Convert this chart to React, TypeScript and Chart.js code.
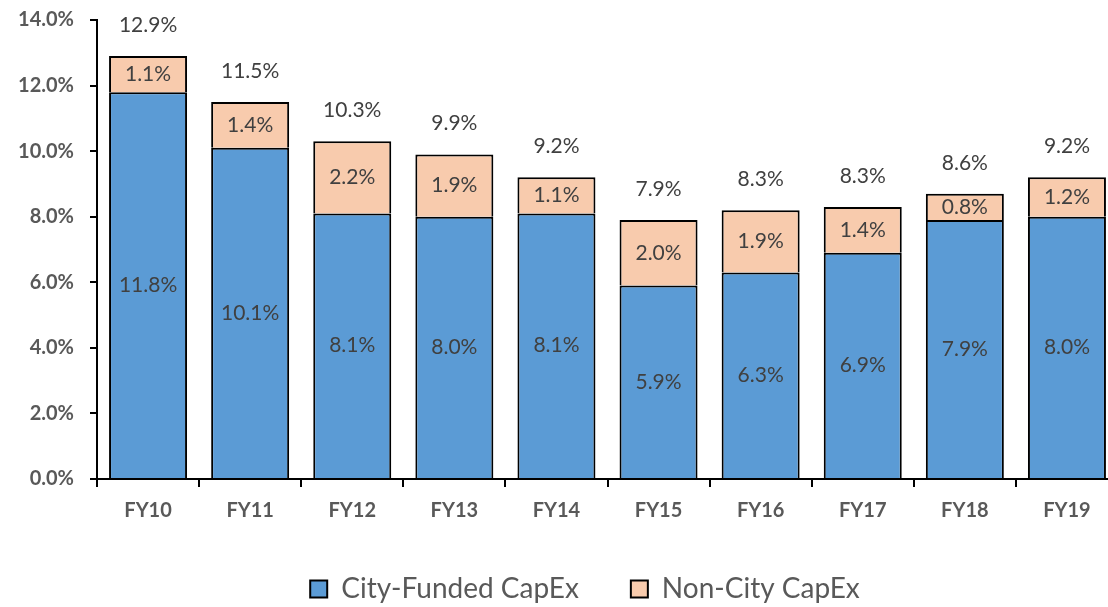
import React, { useEffect, useRef } from "react";
import { Chart, registerables } from "chart.js";

Chart.register(...registerables);

const categories = ["FY10", "FY11", "FY12", "FY13", "FY14", "FY15", "FY16", "FY17", "FY18", "FY19"];
const cityFunded = [11.8, 10.1, 8.1, 8.0, 8.1, 5.9, 6.3, 6.9, 7.9, 8.0];
const nonCity = [1.1, 1.4, 2.2, 1.9, 1.1, 2.0, 1.9, 1.4, 0.8, 1.2];
const totals = [12.9, 11.5, 10.3, 9.9, 9.2, 7.9, 8.3, 8.3, 8.6, 9.2];
const yMin = 0;
const yMax = 14;
const yStep = 2;

const fmt = (v: number) => v.toFixed(1) + "%";

const labelPlugin = {
  id: "barLabels",
  afterDatasetsDraw(chart: any) {
    const ctx = chart.ctx;
    const m0 = chart.getDatasetMeta(0);
    const m1 = chart.getDatasetMeta(1);
    ctx.save();
    ctx.font = "21px Lato";
    ctx.fillStyle = "#404040";
    ctx.textAlign = "center";
    ctx.textBaseline = "middle";
    m0.data.forEach((el: any, i: number) => {
      ctx.fillText(fmt(cityFunded[i]), el.x, (el.y + el.base) / 2);
      const e1 = m1.data[i];
      ctx.fillText(fmt(nonCity[i]), e1.x, (e1.y + e1.base) / 2);
      ctx.fillText(fmt(totals[i]), e1.x, e1.y - 31);
    });
    ctx.restore();
  },
};

export default function App() {
  const ref = useRef<HTMLCanvasElement | null>(null);
  useEffect(() => {
    if (!ref.current) return;
    const chart = new Chart(ref.current, {
      type: "bar",
      data: {
        labels: categories,
        datasets: [
          {
            label: "City-Funded CapEx",
            data: cityFunded,
            backgroundColor: "#5B9BD5",
            borderColor: "#000000",
            borderWidth: 2,
            barPercentage: 0.764,
            categoryPercentage: 1,
          },
          {
            label: "Non-City CapEx",
            data: nonCity,
            backgroundColor: "#F8CBAD",
            borderColor: "#000000",
            borderWidth: 2,
            barPercentage: 0.764,
            categoryPercentage: 1,
          },
        ],
      },
      options: {
        responsive: false,
        animation: false,
        devicePixelRatio: 1,
        layout: { padding: { top: 20, left: 12, right: 0, bottom: 2 } },
        plugins: {
          tooltip: { enabled: false },
          legend: {
            position: "bottom",
            labels: {
              font: { family: "Lato", size: 28 },
              color: "#595959",
              boxWidth: 17,
              boxHeight: 17,
              padding: 52,
            },
          },
        },
        scales: {
          x: {
            stacked: true,
            afterFit: (s: any) => {
              s.height = 44;
            },
            grid: {
              display: true,
              offset: true,
              drawOnChartArea: false,
              drawTicks: true,
              tickLength: 8,
              color: "#000000",
              lineWidth: 2,
            },
            border: { display: true, color: "#000000", width: 2 },
            ticks: {
              font: { family: "Lato", size: 20, weight: "bold" },
              color: "#595959",
              padding: 12,
            },
          },
          y: {
            stacked: true,
            min: yMin,
            max: yMax,
            afterFit: (s: any) => {
              s.width = 85;
              s.paddingTop = 12;
              s.paddingBottom = 12;
            },
            grid: {
              display: true,
              drawOnChartArea: false,
              drawTicks: true,
              tickLength: 7,
              color: "#000000",
              lineWidth: 2,
            },
            border: { display: true, color: "#000000", width: 2 },
            ticks: {
              stepSize: yStep,
              font: { family: "Lato", size: 20, weight: "bold" },
              color: "#595959",
              padding: 16,
              callback: (v: any) => Number(v).toFixed(1) + "%",
            },
          },
          yRight: {
            position: "right",
            display: true,
            afterFit: (s: any) => {
              s.width = 40;
              s.paddingTop = 0;
              s.paddingBottom = 0;
            },
            grid: { display: false },
            border: { display: false },
            ticks: { display: false },
          },
        },
      },
      plugins: [labelPlugin],
    });
    return () => chart.destroy();
  }, []);
  return (
    <div
      style={{
        position: "fixed",
        left: 0,
        top: 0,
        width: 1108,
        height: 607,
        overflow: "hidden",
        background: "#ffffff",
      }}
    >
      <canvas ref={ref} width={1158} height={615} style={{ display: "block" }} />
    </div>
  );
}
